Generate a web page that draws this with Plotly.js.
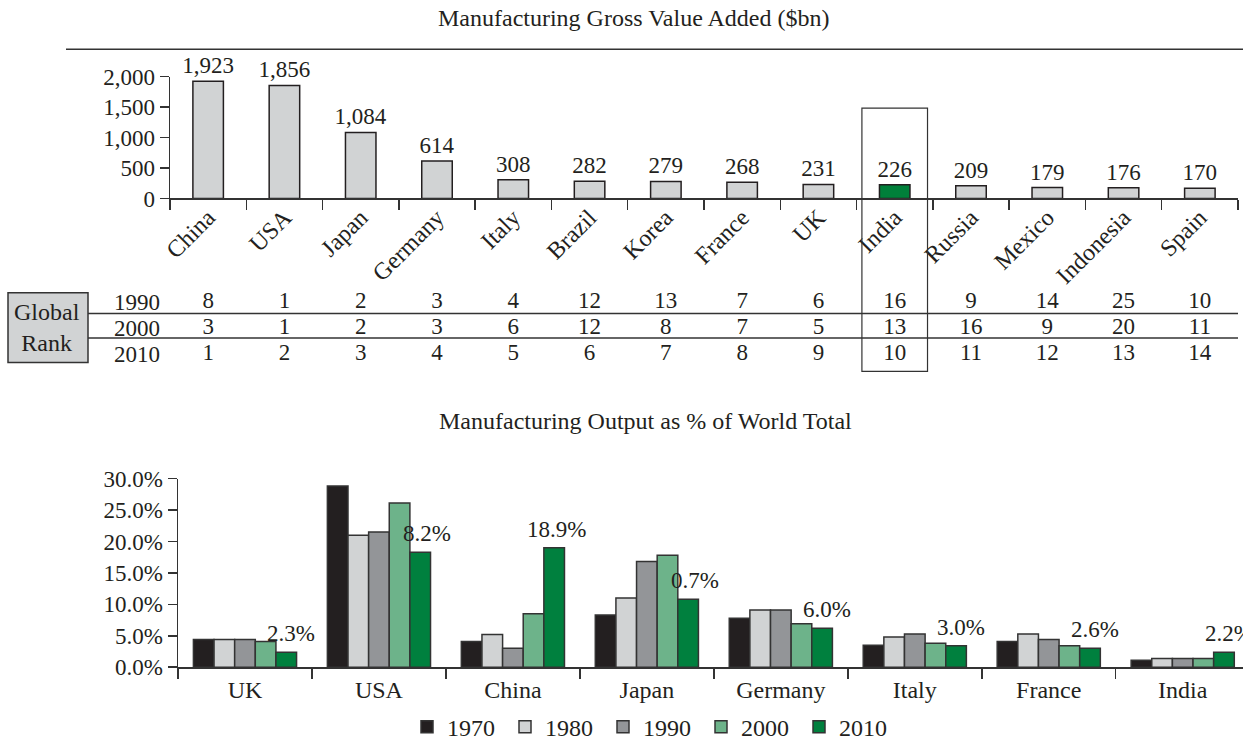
<!DOCTYPE html>
<html>
<head>
<meta charset="utf-8">
<script src="https://cdn.plot.ly/plotly-3.0.1.min.js"></script>
<style>html,body{margin:0;padding:0;background:#fff;}#chart{width:1243px;height:750px;}</style>
</head>
<body>
<div id="chart"></div>
<script>
// ---------- data ----------
const gvaCountries = ["China","USA","Japan","Germany","Italy","Brazil","Korea","France","UK","India","Russia","Mexico","Indonesia","Spain"];
const gvaValues = [1923,1856,1084,614,308,282,279,268,231,226,209,179,176,170];
const rankYears = ["1990","2000","2010"];
const rank1990 = [8,1,2,3,4,12,13,7,6,16,9,14,25,10];
const rank2000 = [3,1,2,3,6,12,8,7,5,13,16,9,20,11];
const rank2010 = [1,2,3,4,5,6,7,8,9,10,11,12,13,14];
const highlightCountry = "India";

const shareCountries = ["UK","USA","China","Japan","Germany","Italy","France","India"];
const shareYears = ["1970","1980","1990","2000","2010"];
const share1970 = [4.4,28.8,4.1,8.3,7.8,3.5,4.1,1.1];
const share1980 = [4.4,21.0,5.2,11.0,9.1,4.8,5.3,1.4];
const share1990 = [4.4,21.5,3.0,16.8,9.1,5.3,4.4,1.4];
const share2000 = [4.1,26.1,8.5,17.8,6.9,3.8,3.4,1.4];
const share2010 = [2.4,18.3,19.0,10.8,6.2,3.4,3.0,2.4];
const share2010Labels = ["2.3%","8.2%","18.9%","0.7%","6.0%","3.0%","2.6%","2.2%"];

// ---------- styles ----------
const FONT = "Liberation Serif, Times New Roman, serif";
const INK = "#231f20";
const FN = 23;   // numbers
const FW = 24;   // words
const W = 1243, H = 750;
const px = v => v / W;
const py = v => 1 - v / H;
const shareColors = ["#231f20","#d1d3d4","#939598","#6db38a","#00803e"];
const labelShift = [46,48,44,48,46,46,46,46];

const traces = [];

// top bar chart
traces.push({
  type: "bar", x: gvaCountries, y: gvaValues, xaxis: "x", yaxis: "y",
  width: 0.4,
  marker: {color: gvaCountries.map(c => c === highlightCountry ? "#00803a" : "#d1d3d4"),
           line: {color: INK, width: 1.5}},
  text: gvaValues.map(v => v.toLocaleString("en-US")),
  textposition: "outside", cliponaxis: false, constraintext: "none",
  textfont: {family: FONT, size: FN, color: INK},
  showlegend: false, hoverinfo: "skip"
});

// rank table as text scatter
const rankRows = [rank1990, rank2000, rank2010];
rankRows.forEach((row, i) => {
  traces.push({
    type: "scatter", mode: "text", x: gvaCountries, y: gvaCountries.map(() => 2 - i),
    text: row.map(String), xaxis: "x3", yaxis: "y3",
    textfont: {family: FONT, size: FN, color: INK},
    showlegend: false, hoverinfo: "skip", cliponaxis: false
  });
});

// bottom grouped bars
const shareSeries = [share1970, share1980, share1990, share2000, share2010];
shareSeries.forEach((vals, i) => {
  traces.push({
    type: "bar", name: shareYears[i], x: shareCountries, y: vals,
    xaxis: "x2", yaxis: "y2",
    marker: {color: shareColors[i], line: {color: "#333333", width: 1.5}},
    hoverinfo: "skip"
  });
});

const annotations = [];
annotations.push({xref: "paper", yref: "paper", x: px(633), y: py(18), text: "Manufacturing Gross Value Added ($bn)",
  showarrow: false, xanchor: "center", yanchor: "middle", font: {family: FONT, size: FW, color: INK}});
annotations.push({xref: "paper", yref: "paper", x: px(645), y: py(428), text: "Manufacturing Output as % of World Total",
  showarrow: false, xanchor: "center", yanchor: "middle", font: {family: FONT, size: FW, color: INK}});
annotations.push({xref: "paper", yref: "paper", x: px(47), y: py(333), text: "Global<br>Rank",
  showarrow: false, xanchor: "center", yanchor: "middle", font: {family: FONT, size: FW, color: INK}});
rankYears.forEach((yr, i) => {
  annotations.push({xref: "paper", yref: "y3", x: px(137), y: 2 - i, text: yr,
    showarrow: false, xanchor: "center", yanchor: "middle", font: {family: FONT, size: FN, color: INK}});
});
share2010Labels.forEach((t, i) => {
  annotations.push({xref: "x2", yref: "y2", x: shareCountries[i], y: share2010[i], text: t,
    showarrow: false, xanchor: "center", yanchor: "bottom", xshift: labelShift[i], yshift: 4,
    font: {family: FONT, size: FN, color: INK}});
});

const hi = gvaCountries.indexOf(highlightCountry);
const shapes = [
  {type: "line", xref: "paper", yref: "paper", x0: px(66), x1: 1, y0: py(50), y1: py(50), line: {color: "#333", width: 1.5}},
  {type: "rect", xref: "paper", yref: "paper", x0: px(8), x1: px(88), y0: py(298), y1: py(369),
   fillcolor: "#d1d3d4", line: {color: "#333", width: 1.5}, layer: "below"},
  {type: "line", xref: "paper", yref: "paper", x0: px(88), x1: px(1238), y0: py(319), y1: py(319), line: {color: "#333", width: 1.5}},
  {type: "line", xref: "paper", yref: "paper", x0: px(88), x1: px(1238), y0: py(344), y1: py(344), line: {color: "#333", width: 1.5}},
  {type: "rect", xref: "x", yref: "paper", x0: hi - 0.43, x1: hi + 0.43, y0: py(110), y1: py(378),
   line: {color: "#333", width: 1.2}, fillcolor: "rgba(0,0,0,0)"}
];

const numFont = {family: FONT, size: FN, color: INK};
const wordFont = {family: FONT, size: FW, color: INK};
const layout = {
  width: W, height: H,
  margin: {l: 0, r: 0, t: 0, b: 0},
  paper_bgcolor: "#fff", plot_bgcolor: "rgba(0,0,0,0)",
  font: {family: FONT, size: FN, color: INK},
  barmode: "group", bargap: 0.23, bargroupgap: 0,
  showlegend: true,
  legend: {orientation: "h", x: px(407), y: py(740), xanchor: "left", yanchor: "middle",
    entrywidth: 53, entrywidthmode: "pixels", itemwidth: 30,
    font: {family: FONT, size: FW, color: INK}, bgcolor: "rgba(0,0,0,0)"},
  xaxis: {domain: [px(170), px(1238)], anchor: "y", type: "category", range: [-0.5, 13.5],
    showline: true, linecolor: "#333", linewidth: 1.5, ticks: "outside", tickson: "boundaries",
    ticklen: 10, tickcolor: "#333", tickwidth: 1.5, tickangle: -45, tickfont: wordFont,
    ticklabelstandoff: -6,
    showgrid: false, zeroline: false, fixedrange: true},
  yaxis: {domain: [py(202), py(78)], anchor: "x", range: [0, 2000], dtick: 500, tickformat: ",",
    showline: true, linecolor: "#333", linewidth: 1.5, ticks: "outside", ticklen: 9,
    tickcolor: "#333", tickwidth: 1.5, tickfont: numFont, showgrid: false, zeroline: false, fixedrange: true},
  xaxis3: {domain: [px(170), px(1238)], anchor: "y3", type: "category", range: [-0.5, 13.5],
    visible: false, fixedrange: true},
  yaxis3: {domain: [py(374.25), py(294.75)], anchor: "x3", range: [-0.5, 2.5], visible: false, fixedrange: true},
  xaxis2: {domain: [px(178), 1], anchor: "y2", type: "category", range: [-0.5, 7.45],
    showline: true, linecolor: "#333", linewidth: 1.5, ticks: "outside", tickson: "boundaries",
    ticklen: 10, tickcolor: "#333", tickwidth: 1.5, tickfont: wordFont,
    showgrid: false, zeroline: false, fixedrange: true},
  yaxis2: {domain: [py(679), py(487)], anchor: "x2", range: [0, 30], dtick: 5, tickformat: ".1f", ticksuffix: "%",
    showline: true, linecolor: "#333", linewidth: 1.5, ticks: "outside", ticklen: 9,
    tickcolor: "#333", tickwidth: 1.5, tickfont: numFont, showgrid: false, zeroline: false, fixedrange: true},
  annotations: annotations,
  shapes: shapes
};

Plotly.newPlot("chart", traces, layout, {displayModeBar: false, staticPlot: true});
</script>
</body>
</html>
